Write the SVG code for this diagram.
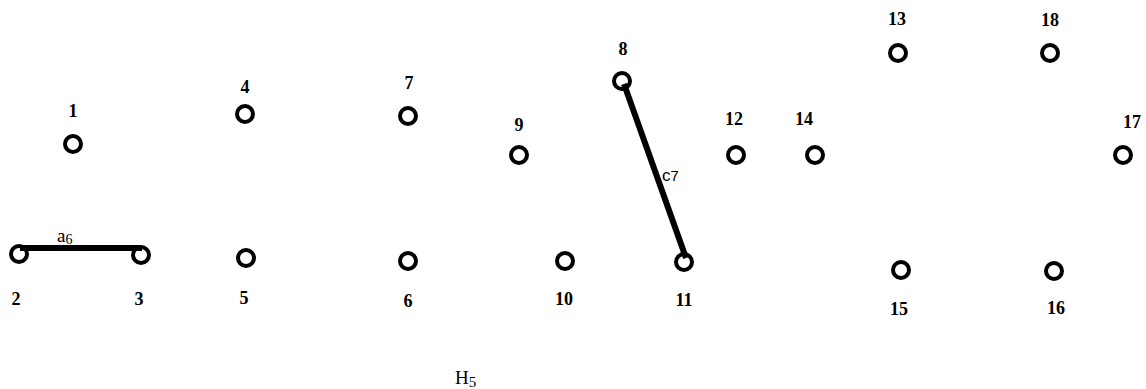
<svg xmlns="http://www.w3.org/2000/svg" width="1146" height="389" viewBox="0 0 1146 389">
<style>
.n{fill:none;stroke:#000;stroke-width:4}
.l{font-family:"Liberation Serif",serif;font-weight:bold;font-size:18px;fill:#000;text-anchor:middle}
.e{stroke:#000;stroke-width:6;stroke-linecap:butt}
.t{font-family:"Liberation Serif",serif;font-size:19px;fill:#000}
</style>
<rect width="1146" height="389" fill="#fff"/>
<g id="connectors">
<line class="e" x1="20" y1="248" x2="142" y2="248"/>
<line class="e" x1="624" y1="84" x2="686" y2="258"/>
<text class="t" x="57" y="242">a<tspan font-size="14" dy="2">6</tspan></text>
<text x="662" y="181" font-family="Liberation Sans,sans-serif" font-size="17" fill="#000">c<tspan font-size="15">7</tspan></text>
</g>
<g id="n1"><circle class="n" cx="73" cy="144" r="8"/><text class="l" x="73" y="117">1</text></g>
<g id="n2"><circle class="n" cx="19" cy="254" r="8"/><text class="l" x="16" y="305">2</text></g>
<g id="n3"><circle class="n" cx="141" cy="255" r="8"/><text class="l" x="139" y="305">3</text></g>
<g id="n4"><circle class="n" cx="245" cy="114" r="8"/><text class="l" x="245" y="93">4</text></g>
<g id="n5"><circle class="n" cx="246" cy="258" r="8"/><text class="l" x="244" y="304">5</text></g>
<g id="n6"><circle class="n" cx="408" cy="261" r="8"/><text class="l" x="408" y="307">6</text></g>
<g id="n7"><circle class="n" cx="408" cy="116" r="8"/><text class="l" x="409" y="89">7</text></g>
<g id="n8"><circle class="n" cx="622" cy="81" r="8"/><text class="l" x="623" y="55">8</text></g>
<g id="n9"><circle class="n" cx="519" cy="155" r="8"/><text class="l" x="519" y="131">9</text></g>
<g id="n10"><circle class="n" cx="565" cy="261" r="8"/><text class="l" x="564" y="305">10</text></g>
<g id="n11"><circle class="n" cx="684" cy="262" r="8"/><text class="l" x="684" y="306">11</text></g>
<g id="n12"><circle class="n" cx="736" cy="155" r="8"/><text class="l" x="734" y="125">12</text></g>
<g id="n13"><circle class="n" cx="898" cy="53" r="8"/><text class="l" x="897" y="25">13</text></g>
<g id="n14"><circle class="n" cx="815" cy="155" r="8"/><text class="l" x="804" y="125">14</text></g>
<g id="n15"><circle class="n" cx="901" cy="270" r="8"/><text class="l" x="899" y="315">15</text></g>
<g id="n16"><circle class="n" cx="1054" cy="271" r="8"/><text class="l" x="1056" y="314">16</text></g>
<g id="n17"><circle class="n" cx="1123" cy="155" r="8"/><text class="l" x="1132" y="128">17</text></g>
<g id="n18"><circle class="n" cx="1050" cy="53" r="8"/><text class="l" x="1050" y="26">18</text></g>
<text class="t" x="455" y="384" font-size="21">H<tspan font-size="15" dy="3">5</tspan></text>
</svg>
